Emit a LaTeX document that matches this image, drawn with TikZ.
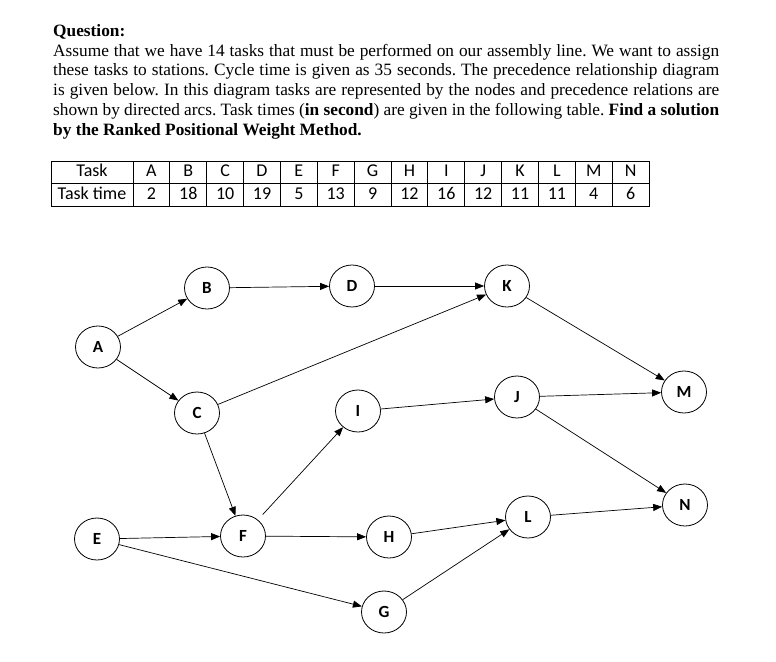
\documentclass[tikz,border=0pt]{standalone}
\usepackage{fontspec}
\setmainfont{Liberation Serif}
\newfontfamily\calibri{Carlito}
\usetikzlibrary{shapes.geometric,arrows.meta}
\colorlet{arc color}{black}
\def\colw{36.86}
\tikzset{task/.style={ellipse, draw, line width=0.8pt, minimum width=45pt, minimum height=42pt,
          inner sep=0pt, font=\calibri\bfseries\fontsize{17}{17}\selectfont},
      arc/.style={-{Triangle[length=9pt,width=7pt]}, line width=0.7pt, draw=arc color},
      cell/.style={draw, line width=0.8pt, minimum height=22.5pt, minimum width=\colw pt,
          text height=12pt, text depth=3.5pt,
          inner sep=0pt, font=\calibri\fontsize{18}{18}\selectfont}}

\begin{document}
\frenchspacing
\begin{tikzpicture}[x=1pt,y=-1pt]
\useasboundingbox (0,0) rectangle (776,661);
    \node[anchor=north west, text width=666pt, align=justify, inner sep=0pt,
      font=\fontsize{17.3}{19.8}\selectfont] (question) at (53,24)
      {\textbf{Question:}\\
       Assume that we have 14 tasks that must be performed on our assembly line. We want to assign\linebreak
       these tasks to stations. Cycle time is given as 35 seconds. The precedence relationship diagram\linebreak
       is given below. In this diagram tasks are represented by the nodes and precedence relations are\linebreak
       shown by directed arcs. Task times (\textbf{in second}) are given in the following table. \textbf{Find a solution}\linebreak
       \textbf{by the Ranked Positional Weight Method.}};
    % table of task times
    \node[cell, minimum width=82pt] (tTask) at (92,172.5) {Task};
    \node[cell, minimum width=82pt] (vTask) at (92,195) {Task time};
    \foreach \t/\v [count=\i] in {A/2,B/18,C/10,D/19,E/5,F/13,G/9,H/12,I/16,J/12,K/11,L/11,M/4,N/6}
      {
      \node[cell] (t\t) at ({133+\colw*(\i-0.5)},172.5) {\t};
      \node[cell] (v\t) at ({133+\colw*(\i-0.5)},195) {\v};
      }
    % precedence diagram
    \node[task] (A) at (98,347) {A};
    \node[task] (B) at (207,288) {B};
    \node[task] (C) at (197,413) {C};
    \node[task] (D) at (352,286) {D};
    \node[task] (E) at (97,539) {E};
    \node[task] (F) at (243,536) {F};
    \node[task] (G) at (384,612) {G};
    \node[task] (H) at (389,537) {H};
    \node[task] (I) at (358,411) {I};
    \node[task] (J) at (517,397) {J};
    \node[task] (K) at (507,286) {K};
    \node[task] (L) at (528,517) {L};
    \node[task] (M) at (684,392) {M};
    \node[task] (N) at (685,505) {N};
    \draw[arc] (A) -- (B);
    \draw[arc] (A) -- (C);
    \draw[arc] (B) -- (D);
    \draw[arc] (D) -- (K);
    \draw[arc] (C) -- (K);
    \draw[arc] (C) -- (F);
    \draw[arc, shorten <=7pt] (F) -- (I);
    \draw[arc] (I) -- (J);
    \draw[arc] (K) -- (M);
    \draw[arc] (J) -- (M);
    \draw[arc] (J) -- (N);
    \draw[arc] (L) -- (N);
    \draw[arc] (E) -- (F);
    \draw[arc] (E) -- (G);
    \draw[arc] (F) -- (H);
    \draw[arc] (H) -- (L);
    \draw[arc] (G) -- (L);
\end{tikzpicture}
\end{document}
